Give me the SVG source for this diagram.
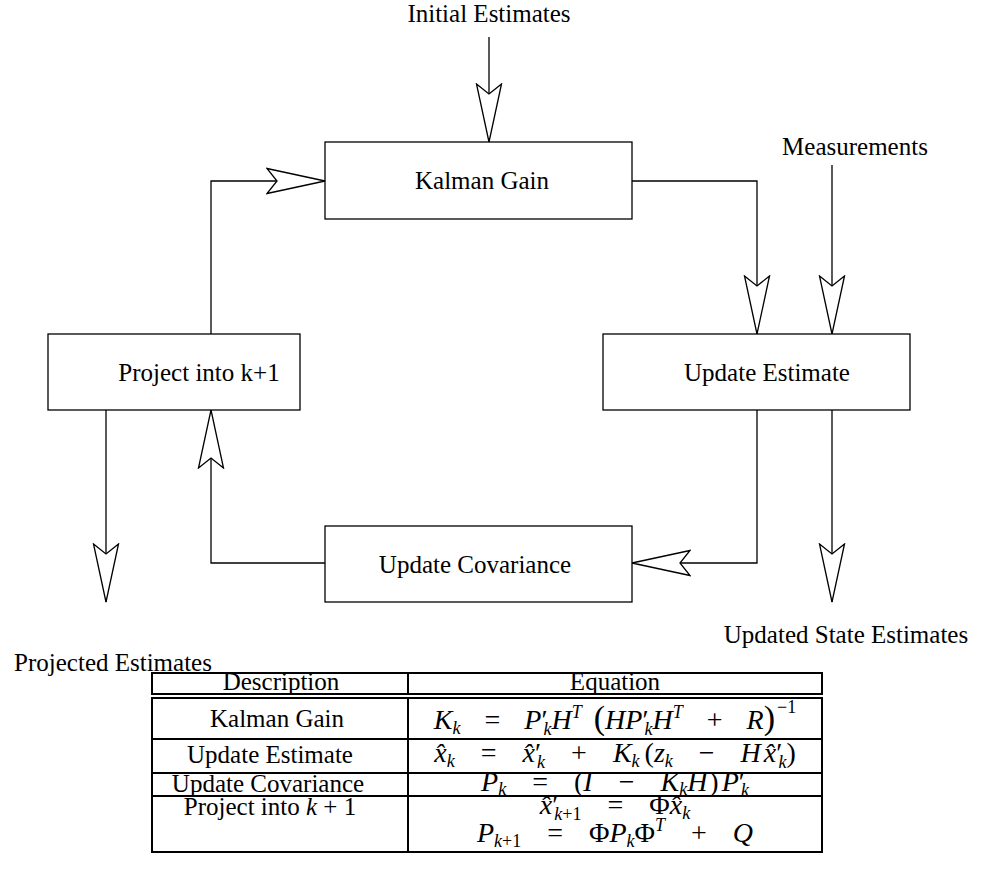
<svg xmlns="http://www.w3.org/2000/svg" width="983" height="870" viewBox="0 0 983 870">
<style>
.ln{fill:none;stroke:#000;stroke-width:1.3;marker-end:url(#ah)}
.bx{fill:#fff;stroke:#000;stroke-width:1.3}
.lbl{font-family:"Liberation Serif",serif;font-size:25px;text-anchor:middle;fill:#000}
.tb{font-family:"Liberation Serif",serif;font-size:25px;text-anchor:middle;fill:#000}
.eq{font-family:"Liberation Serif",serif;font-size:28px;text-anchor:middle;fill:#000}
.tbl{fill:none;stroke:#000;stroke-width:2}
.i{font-style:italic}
.s{font-size:18px;font-style:italic}
.su{font-size:18px}
</style>
<defs>
<marker id="ah" viewBox="-1 -14 61 28" refX="58" refY="0" markerWidth="61" markerHeight="28" markerUnits="userSpaceOnUse" orient="auto">
<path d="M0,-12.5 L58,0 L0,12.5 L10,0 Z" fill="#fff" stroke="#000" stroke-width="1.3" stroke-linejoin="miter"/>
</marker>
</defs>
<g id="connectors">
<path class="ln" d="M489,37 V142"/>
<path class="ln" d="M632,181 H757 V334"/>
<path class="ln" d="M832,165 V334"/>
<path class="ln" d="M757,410 V563 H632"/>
<path class="ln" d="M832,410 V602"/>
<path class="ln" d="M325,563 H211 V410"/>
<path class="ln" d="M211,334 V181 H325"/>
<path class="ln" d="M106,410 V602"/>
</g>
<g id="kalman"><rect class="bx" x="325" y="142" width="307" height="77"/><text class="lbl" x="482" y="189">Kalman Gain</text></g>
<g id="update-estimate"><rect class="bx" x="603" y="334" width="307" height="76"/><text class="lbl" x="767" y="381">Update Estimate</text></g>
<g id="project"><rect class="bx" x="48" y="334" width="252" height="76"/><text class="lbl" x="199" y="381">Project into k+1</text></g>
<g id="update-covariance"><rect class="bx" x="325" y="526" width="307" height="76"/><text class="lbl" x="475" y="573">Update Covariance</text></g>
<g id="initial"><text class="lbl" x="489" y="22">Initial Estimates</text></g>
<g id="measurements"><text class="lbl" x="855" y="155">Measurements</text></g>
<g id="projected"><text class="lbl" x="113" y="671">Projected Estimates</text></g>
<g id="updated-state"><text class="lbl" x="846" y="643">Updated State Estimates</text></g>
<g id="table">
<rect class="tbl" x="152" y="673" width="670" height="21"/>
<rect class="tbl" x="152" y="698" width="670" height="154"/>
<path class="tbl" d="M408,673 V694 M408,698 V852 M152,739 H822 M152,773 H822 M152,796 H822"/>
<text class="tb" x="281" y="690">Description</text>
<text class="tb" x="615" y="690">Equation</text>
<text class="tb" x="277" y="727">Kalman Gain</text>
<text class="tb" x="270" y="763">Update Estimate</text>
<text class="tb" x="268" y="792">Update Covariance</text>
<text class="tb" x="270" y="815">Project into <tspan class="i">k</tspan> + 1</text>
<text class="eq" x="615" y="729"><tspan class="i">K</tspan><tspan class="s" dy="5">k</tspan><tspan dx="24" dy="-5">=</tspan><tspan class="i" dx="24">P</tspan>′<tspan class="s" dx="-4" dy="6">k</tspan><tspan class="i" dy="-6">H</tspan><tspan class="s" dy="-11">T</tspan><tspan dx="12" dy="11" font-size="34">(</tspan><tspan class="i">HP</tspan>′<tspan class="s" dx="-4" dy="6">k</tspan><tspan class="i" dy="-6">H</tspan><tspan class="s" dy="-11">T</tspan><tspan dx="24" dy="11">+</tspan><tspan class="i" dx="24">R</tspan><tspan font-size="34">)</tspan><tspan class="su" dx="2" dy="-16">−1</tspan></text>
<text class="eq" x="615" y="762"><tspan class="i">x̂</tspan><tspan class="s" dy="5">k</tspan><tspan dx="26" dy="-5">=</tspan><tspan class="i" dx="26">x̂</tspan>′<tspan class="s" dx="-4" dy="6">k</tspan><tspan dx="26" dy="-6">+</tspan><tspan class="i" dx="26">K</tspan><tspan class="s" dy="5">k</tspan><tspan dx="5" dy="-5">(</tspan><tspan class="i">z</tspan><tspan class="s" dy="5">k</tspan><tspan dx="26" dy="-5">−</tspan><tspan class="i" dx="26">H</tspan><tspan class="i" dx="3">x̂</tspan>′<tspan class="s" dx="-4" dy="6">k</tspan><tspan dy="-6">)</tspan></text>
<text class="eq" x="615" y="791"><tspan class="i">P</tspan><tspan class="s" dy="4">k</tspan><tspan dx="26" dy="-4">=</tspan><tspan dx="26">(</tspan><tspan class="i">I</tspan><tspan dx="26">−</tspan><tspan class="i" dx="26">K</tspan><tspan class="s" dy="4">k</tspan><tspan class="i" dy="-4">H</tspan><tspan dx="2">)</tspan><tspan class="i" dx="3">P</tspan>′<tspan class="s" dx="-4" dy="5">k</tspan></text>
<text class="eq" x="615" y="814"><tspan class="i">x̂</tspan>′<tspan class="s" dx="-4" dy="6">k</tspan><tspan class="su">+1</tspan><tspan dx="26" dy="-6">=</tspan><tspan dx="26">Φ</tspan><tspan class="i">x̂</tspan><tspan class="s" dy="5">k</tspan></text>
<text class="eq" x="615" y="842"><tspan class="i">P</tspan><tspan class="s" dy="5">k</tspan><tspan class="su">+1</tspan><tspan dx="26" dy="-5">=</tspan><tspan dx="26">Φ</tspan><tspan class="i">P</tspan><tspan class="s" dy="5">k</tspan><tspan dy="-5">Φ</tspan><tspan class="s" dy="-11">T</tspan><tspan dx="26" dy="11">+</tspan><tspan class="i" dx="26">Q</tspan></text>
</g>
</svg>
